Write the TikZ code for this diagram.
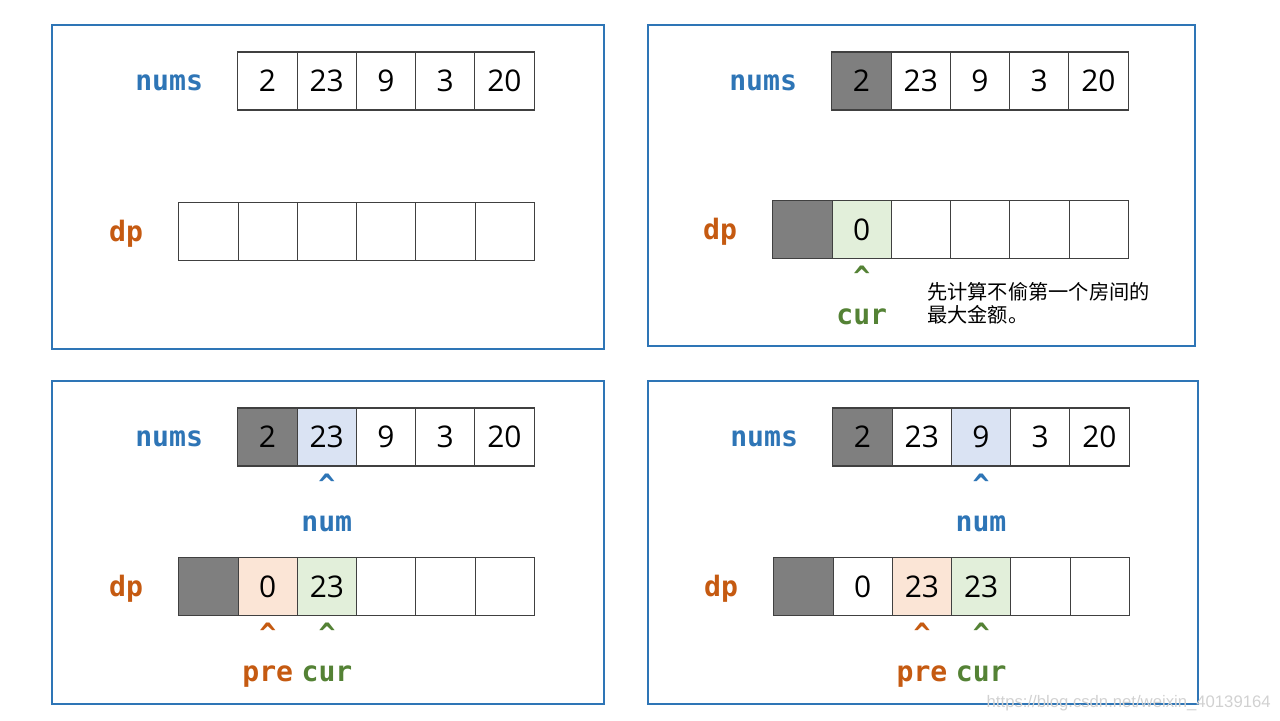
\documentclass[tikz,border=0pt]{standalone}
\usepackage{fontspec}
\setmainfont{Open Sans}
\newfontfamily\codefont{DejaVu Sans Mono}
\newfontfamily\cjk{Noto Sans CJK SC}
\newfontfamily\markfont{Liberation Sans}
\usetikzlibrary{positioning}

\begin{document}
\begin{tikzpicture}[x=0.02cm,y=-0.02cm,node distance=1.185cm,
	cell/.style={rectangle,draw=black!75,line width=0.6pt,minimum width=1.185cm,
		minimum height=1.16cm,inner sep=0pt,font=\fontsize{17}{20}\selectfont},
	tag/.style={inner sep=0pt,font=\codefont\bfseries\fontsize{16}{18}\selectfont},
	rowtag/.style={tag,yshift=-0.04cm},
	frame/.style={draw=frameblue,line width=0.7pt}]
	
	\definecolor{frameblue}{RGB}{46,117,182}
	\definecolor{numsc}{RGB}{46,117,182}
	\definecolor{dpc}{RGB}{197,90,17}
	\definecolor{curc}{RGB}{84,130,53}
	\definecolor{done}{RGB}{127,127,127}
	\definecolor{curfill}{RGB}{226,239,218}
	\definecolor{prefill}{RGB}{251,229,214}
	\definecolor{numfill}{RGB}{218,227,243}
	
	\useasboundingbox (0,0) rectangle (1280,720);
	
	% frames
	\draw[frame] (52,25) rectangle (604,349);
	\draw[frame] (648,25) rectangle (1195,346);
	\draw[frame] (52,381) rectangle (604,704);
	\draw[frame] (648,381) rectangle (1198,704);
	
	% panel 1
	\node[cell] (na1) at (267.5,81) {2};
	\node[cell] (na2) [right of=na1] {23};
	\node[cell] (na3) [right of=na2] {9};
	\node[cell] (na4) [right of=na3] {3};
	\node[cell] (na5) [right of=na4] {20};
	\node[rowtag,text=numsc] (lna) [left=0.68cm of na1] {nums};
	
	\node[cell] (da1) at (208.5,231.5) {};
	\node[cell] (da2) [right of=da1] {};
	\node[cell] (da3) [right of=da2] {};
	\node[cell] (da4) [right of=da3] {};
	\node[cell] (da5) [right of=da4] {};
	\node[cell] (da6) [right of=da5] {};
	\node[rowtag,text=dpc] (lda) [left=0.7cm of da1] {dp};
	
	% panel 2
	\node[cell, fill=done] (nb1) at (861.5,81) {2};
	\node[cell] (nb2) [right of=nb1] {23};
	\node[cell] (nb3) [right of=nb2] {9};
	\node[cell] (nb4) [right of=nb3] {3};
	\node[cell] (nb5) [right of=nb4] {20};
	\node[rowtag,text=numsc] (lnb) [left=0.68cm of nb1] {nums};
	
	\node[cell, fill=done] (db1) at (802.5,229.5) {};
	\node[cell, fill=curfill] (db2) [right of=db1] {0};
	\node[cell] (db3) [right of=db2] {};
	\node[cell] (db4) [right of=db3] {};
	\node[cell] (db5) [right of=db4] {};
	\node[cell] (db6) [right of=db5] {};
	\node[rowtag,text=dpc] (ldb) [left=0.7cm of db1] {dp};
	
	\node[tag,text=curc] (hb) [below=0.14cm of db2] {\textasciicircum};
	\node[tag,text=curc] (cb) [below=0.42cm of hb] {cur};
	\node[anchor=north west,align=left,inner sep=0pt,
		font=\cjk\fontsize{11.5}{13}\selectfont] (tip) at (927,282)
		{先计算不偷第一个房间的\\最大金额。};
	
	% panel 3
	\node[cell, fill=done] (nc1) at (267.5,437) {2};
	\node[cell, fill=numfill] (nc2) [right of=nc1] {23};
	\node[cell] (nc3) [right of=nc2] {9};
	\node[cell] (nc4) [right of=nc3] {3};
	\node[cell] (nc5) [right of=nc4] {20};
	\node[rowtag,text=numsc] (lnc) [left=0.68cm of nc1] {nums};
	\node[tag,text=numsc] (hnc) [below=0.14cm of nc2] {\textasciicircum};
	\node[tag,text=numsc] (mc) [below=0.42cm of hnc] {num};
	
	\node[cell, fill=done] (dc1) at (208.5,586.5) {};
	\node[cell, fill=prefill] (dc2) [right of=dc1] {0};
	\node[cell, fill=curfill] (dc3) [right of=dc2] {23};
	\node[cell] (dc4) [right of=dc3] {};
	\node[cell] (dc5) [right of=dc4] {};
	\node[cell] (dc6) [right of=dc5] {};
	\node[rowtag,text=dpc] (ldc) [left=0.7cm of dc1] {dp};
	\node[tag,text=dpc] (hpc) [below=0.14cm of dc2] {\textasciicircum};
	\node[tag,text=curc] (hcc) [below=0.14cm of dc3] {\textasciicircum};
	\node[tag,text=dpc] (pc) [below=0.42cm of hpc] {pre};
	\node[tag,text=curc] (cc) [below=0.42cm of hcc] {cur};
	
	% panel 4
	\node[cell, fill=done] (nd1) at (862.5,437) {2};
	\node[cell] (nd2) [right of=nd1] {23};
	\node[cell, fill=numfill] (nd3) [right of=nd2] {9};
	\node[cell] (nd4) [right of=nd3] {3};
	\node[cell] (nd5) [right of=nd4] {20};
	\node[rowtag,text=numsc] (lnd) [left=0.68cm of nd1] {nums};
	\node[tag,text=numsc] (hnd) [below=0.14cm of nd3] {\textasciicircum};
	\node[tag,text=numsc] (md) [below=0.42cm of hnd] {num};
	
	\node[cell, fill=done] (dd1) at (803.5,586.5) {};
	\node[cell] (dd2) [right of=dd1] {0};
	\node[cell, fill=prefill] (dd3) [right of=dd2] {23};
	\node[cell, fill=curfill] (dd4) [right of=dd3] {23};
	\node[cell] (dd5) [right of=dd4] {};
	\node[cell] (dd6) [right of=dd5] {};
	\node[rowtag,text=dpc] (ldd) [left=0.7cm of dd1] {dp};
	\node[tag,text=dpc] (hpd) [below=0.14cm of dd3] {\textasciicircum};
	\node[tag,text=curc] (hcd) [below=0.14cm of dd4] {\textasciicircum};
	\node[tag,text=dpc] (pd) [below=0.42cm of hpd] {pre};
	\node[tag,text=curc] (cd) [below=0.42cm of hcd] {cur};
	
	\node[anchor=east,inner sep=0pt,text=black!18,
		font=\markfont\fontsize{9.5}{11}\selectfont] (mark) at (1271,703)
		{https://blog.csdn.net/weixin\_40139164};
\end{tikzpicture}
\end{document}
